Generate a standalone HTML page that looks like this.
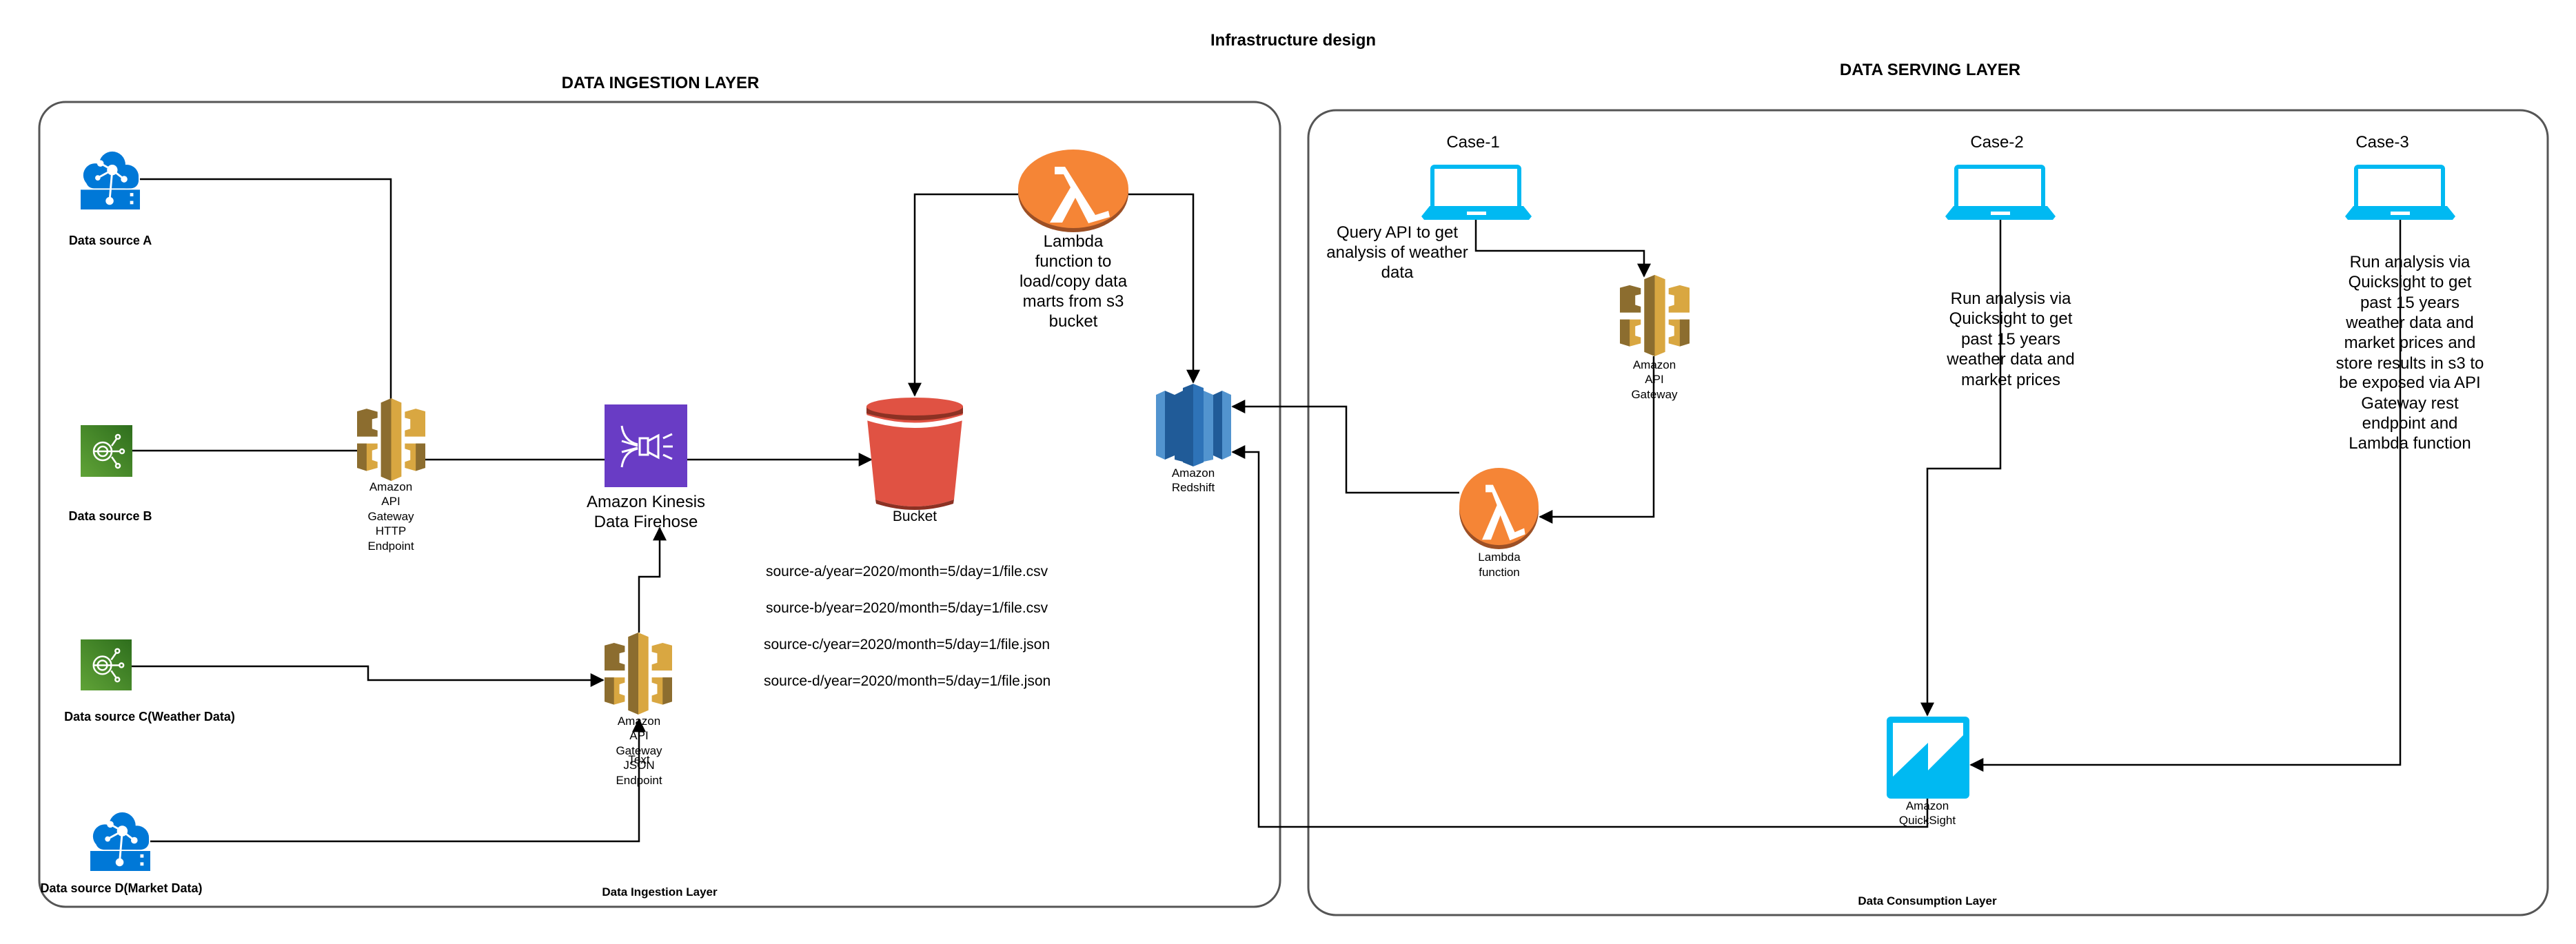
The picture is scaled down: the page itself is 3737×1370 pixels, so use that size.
<!DOCTYPE html>
<html><head><meta charset="utf-8"><style>
html,body{margin:0;padding:0;background:#fff}
svg{display:block}
text{font-family:"Liberation Sans",Arial,sans-serif;fill:#000}
.b{font-weight:bold}
.ln{fill:none;stroke:#000;stroke-width:2.5}
</style></head><body>
<svg width="3737" height="1370" viewBox="0 0 3737 1370" xmlns="http://www.w3.org/2000/svg">
<defs>
<marker id="a" viewBox="0 0 12 12" refX="11" refY="6" markerWidth="20" markerHeight="20" markerUnits="userSpaceOnUse" orient="auto"><path d="M0,0 L12,6 L0,12 Z" fill="#000"/></marker>
<symbol id="gw" viewBox="0 0 100 190" preserveAspectRatio="none">
<polygon points="0,30 14,24 30,31 30,45 22,48 22,70 30,74 30,88 0,88" fill="#8C6D2F"/>
<polygon points="100,30 86,24 70,31 70,45 78,48 78,70 70,74 70,88 100,88" fill="#D9A741"/>
<polygon points="0,104 30,104 30,116 22,120 22,142 30,146 30,160 14,167 0,160" fill="#D9A741"/>
<polygon points="0,104 14,104 14,167 0,160" fill="#8C6D2F"/>
<polygon points="100,104 70,104 70,116 78,120 78,142 70,146 70,160 86,167 100,160" fill="#D9A741"/>
<polygon points="86,104 100,104 100,160 86,167" fill="#8C6D2F"/>
<polygon points="35,10 50,0 65,10 65,180 50,190 35,180" fill="#D9A741"/>
<polygon points="35,10 50,0 50,190 35,180" fill="#8C6D2F"/>
</symbol>
<symbol id="lam" viewBox="0 0 160 120" preserveAspectRatio="none">
<ellipse cx="80" cy="63" rx="80" ry="57" fill="#9D5025"/>
<ellipse cx="80" cy="57" rx="80" ry="57" fill="#F58536"/>
<polygon points="53,25 68,25 112,95 131,89 133,98 102,107 83,70 64,106 46,106 76,55 66,36 53,36" fill="#fff"/>
</symbol>
<symbol id="lap" viewBox="0 0 160 80">
<rect x="16" y="3" width="126" height="60" rx="3" fill="none" stroke="#00B9F2" stroke-width="6"/>
<polygon points="12,60 148,60 160,75 156,80 4,80 0,75" fill="#00B9F2"/>
<rect x="66" y="68" width="28" height="5" fill="#fff"/>
</symbol>
<symbol id="az" viewBox="0 0 90 90">
<circle cx="48" cy="22" r="20" fill="#0078D7"/><circle cx="22" cy="38" r="18" fill="#0078D7"/><circle cx="70" cy="40" r="18" fill="#0078D7"/>
<rect x="8" y="30" width="80" height="28" rx="12" fill="#0078D7"/>
<rect x="0" y="60" width="90" height="30" fill="#0078D7"/>
<g stroke="#fff" stroke-width="3"><line x1="48" y1="30" x2="30" y2="20"/><line x1="48" y1="30" x2="26" y2="42"/><line x1="48" y1="30" x2="66" y2="44"/><line x1="48" y1="30" x2="44" y2="76"/></g>
<g fill="#fff"><circle cx="48" cy="30" r="8"/><circle cx="30" cy="20" r="5"/><circle cx="26" cy="42" r="4"/><circle cx="66" cy="44" r="5"/><circle cx="44" cy="77" r="6"/><rect x="75" y="65" width="5" height="5"/><rect x="75" y="77" width="5" height="5"/></g>
</symbol>
<symbol id="iot" viewBox="0 0 75 75">
<defs><linearGradient id="gg" x1="0" y1="1" x2="1" y2="0"><stop offset="0" stop-color="#60A337"/><stop offset="1" stop-color="#2E6E1D"/></linearGradient></defs>
<rect width="75" height="75" fill="url(#gg)"/>
<g fill="none" stroke="#fff" stroke-width="2.5"><circle cx="32" cy="38" r="13"/><circle cx="32" cy="38" r="7"/><line x1="20" y1="38" x2="58" y2="38"/><path d="M45,30 L52,20"/><path d="M45,46 L52,56"/><circle cx="54" cy="17" r="3"/><circle cx="60" cy="38" r="3"/><circle cx="54" cy="59" r="3"/></g>
</symbol>
</defs>

<text x="1876" y="66" class="b" font-size="24" text-anchor="middle">Infrastructure design</text>
<text x="958" y="128" class="b" font-size="24" text-anchor="middle">DATA INGESTION LAYER</text>
<text x="2800" y="109" class="b" font-size="24" text-anchor="middle">DATA SERVING LAYER</text>

<rect x="57" y="148" width="1800" height="1168" rx="38" fill="none" stroke="#555" stroke-width="3"/>
<rect x="1898" y="160" width="1798" height="1168" rx="40" fill="none" stroke="#555" stroke-width="3"/>

<polyline class="ln" points="203,260 567,260 567,580"/>
<polyline class="ln" points="192,654 518,654"/>
<polyline class="ln" points="617,667 877,667"/>
<polyline class="ln" points="997,667 1264,667" marker-end="url(#a)"/>
<polyline class="ln" points="1477,282 1327,282 1327,574" marker-end="url(#a)"/>
<polyline class="ln" points="1637,282 1731,282 1731,555" marker-end="url(#a)"/>
<polyline class="ln" points="927,918 927,837 957,837 957,766" marker-end="url(#a)"/>
<polyline class="ln" points="191,967 534,967 534,987 875,987" marker-end="url(#a)"/>
<polyline class="ln" points="218,1221 927,1221 927,1044" marker-end="url(#a)"/>
<polyline class="ln" points="2141,319 2141,364 2385,364 2385,401" marker-end="url(#a)"/>
<polyline class="ln" points="2399,517 2399,750 2234,750" marker-end="url(#a)"/>
<polyline class="ln" points="2117,715 1953,715 1953,590 1788,590" marker-end="url(#a)"/>
<polyline class="ln" points="2902,319 2902,680 2796,680 2796,1038" marker-end="url(#a)"/>
<polyline class="ln" points="3482,319 3482,1110 2859,1110" marker-end="url(#a)"/>
<polyline class="ln" points="2796,1159 2796,1200 1826,1200 1826,656 1788,656" marker-end="url(#a)"/>

<use href="#az" x="117" y="217" width="86" height="88"/>
<text x="160" y="355" class="b" font-size="18" text-anchor="middle">Data source A</text>
<use href="#iot" x="117" y="617" width="75" height="75"/>
<text x="160" y="755" class="b" font-size="18" text-anchor="middle">Data source B</text>
<use href="#iot" x="117" y="928" width="74" height="74"/>
<text x="217" y="1046" class="b" font-size="18" text-anchor="middle">Data source C(Weather Data)</text>
<use href="#az" x="131" y="1177" width="87" height="87"/>
<text x="176" y="1295" class="b" font-size="18" text-anchor="middle">Data source D(Market Data)</text>

<use href="#gw" x="518" y="578" width="99" height="120"/>
<g font-size="17" text-anchor="middle">
<text x="567" y="712">Amazon</text><text x="567" y="733">API</text><text x="567" y="755">Gateway</text><text x="567" y="776">HTTP</text><text x="567" y="798">Endpoint</text>
</g>

<rect x="877" y="587" width="120" height="120" fill="#693CC5"/>
<g fill="none" stroke="#fff" stroke-width="3">
<path d="M902,618 Q905,640 925,645"/><path d="M902,678 Q905,656 925,651"/>
<path d="M902,640 L925,647"/><path d="M902,656 L925,650"/>
<rect x="928" y="636" width="12" height="24"/><path d="M940,640 L955,632 L955,664 L940,656"/>
<path d="M962,636 L975,630"/><path d="M962,648 L976,648"/><path d="M962,660 L975,666"/>
</g>
<text x="937" y="736" font-size="24" text-anchor="middle">Amazon Kinesis</text>
<text x="937" y="765" font-size="24" text-anchor="middle">Data Firehose</text>

<use href="#lam" x="1477" y="217" width="160" height="120"/>
<g font-size="24" text-anchor="middle">
<text x="1557" y="358">Lambda</text><text x="1557" y="387">function to</text><text x="1557" y="416">load/copy data</text><text x="1557" y="445">marts from s3</text><text x="1557" y="474">bucket</text>
</g>

<path d="M1257,598 L1270,725 Q1327,745 1384,725 L1397,598 Z" fill="#E05243"/>
<path d="M1270,725 Q1327,745 1384,725 L1383,731 Q1327,749 1271,731 Z" fill="#8C3123"/>
<path d="M1257,602 Q1327,625 1397,602 L1397,610 Q1327,632 1257,610 Z" fill="#fff"/>
<path d="M1257,590 L1257,600 Q1327,620 1397,600 L1397,590 Z" fill="#8C3123"/>
<ellipse cx="1327" cy="590" rx="70" ry="13" fill="#E05243"/>
<text x="1327" y="756" font-size="21" text-anchor="middle">Bucket</text>

<polygon points="1677,573 1690,567 1690,667 1677,661" fill="#5294CF"/>
<polygon points="1690,567 1704,573 1704,661 1690,667" fill="#205B98"/>
<polygon points="1704,573 1716,567 1716,670 1704,667" fill="#205B98"/>
<polygon points="1716,563 1731,557 1731,677 1716,671" fill="#205B98"/>
<polygon points="1731,557 1746,563 1746,671 1731,677" fill="#2E73B8"/>
<polygon points="1746,567 1760,573 1760,667 1746,670" fill="#5294CF"/>
<polygon points="1760,573 1773,567 1773,667 1760,661" fill="#205B98"/>
<polygon points="1773,567 1786,573 1786,661 1773,667" fill="#5294CF"/>
<text x="1731" y="692" font-size="17" text-anchor="middle">Amazon</text>
<text x="1731" y="713" font-size="17" text-anchor="middle">Redshift</text>

<g font-size="21">
<text x="1111" y="836">source-a/year=2020/month=5/day=1/file.csv</text>
<text x="1111" y="889">source-b/year=2020/month=5/day=1/file.csv</text>
<text x="1108" y="942">source-c/year=2020/month=5/day=1/file.json</text>
<text x="1108" y="995">source-d/year=2020/month=5/day=1/file.json</text>
</g>

<use href="#gw" x="877" y="918" width="98" height="119"/>
<g font-size="17" text-anchor="middle">
<text x="927" y="1052">Amazon</text><text x="927" y="1073">API</text><text x="927" y="1095">Gateway</text><text x="927" y="1108">Text</text><text x="927" y="1116">JSON</text><text x="927" y="1138">Endpoint</text>
</g>
<text x="957" y="1300" class="b" font-size="17" text-anchor="middle">Data Ingestion Layer</text>

<g font-size="24" text-anchor="middle">
<text x="2137" y="214">Case-1</text><text x="2897" y="214">Case-2</text><text x="3456" y="214">Case-3</text>
</g>
<use href="#lap" x="2062" y="239" width="160" height="80"/>
<use href="#lap" x="2822" y="239" width="160" height="80"/>
<use href="#lap" x="3402" y="239" width="160" height="80"/>
<g font-size="24" text-anchor="middle">
<text x="2027" y="345">Query  API to get</text><text x="2027" y="374">analysis of weather</text><text x="2027" y="403">data</text>
<text x="2917" y="441">Run analysis via</text><text x="2917" y="470">Quicksight to get</text><text x="2917" y="500">past 15 years</text><text x="2917" y="529">weather data  and</text><text x="2917" y="559">market prices</text>
<text x="3496" y="388">Run analysis via</text><text x="3496" y="417">Quicksight to get</text><text x="3496" y="447">past 15 years</text><text x="3496" y="476">weather data  and</text><text x="3496" y="505">market prices  and</text><text x="3496" y="535">store results in  s3 to</text><text x="3496" y="563">be exposed via API</text><text x="3496" y="593">Gateway rest</text><text x="3496" y="622">endpoint and</text><text x="3496" y="651">Lambda function</text>
</g>

<use href="#gw" x="2350" y="399" width="101" height="118"/>
<g font-size="17" text-anchor="middle">
<text x="2400" y="535">Amazon</text><text x="2400" y="556">API</text><text x="2400" y="578">Gateway</text>
</g>

<use href="#lam" x="2117" y="679" width="115" height="118"/>
<text x="2175" y="814" font-size="17" text-anchor="middle">Lambda</text>
<text x="2175" y="836" font-size="17" text-anchor="middle">function</text>

<rect x="2737" y="1040" width="120" height="119" rx="6" fill="#00B9F2"/>
<polygon points="2746,1049 2848,1049 2848,1067 2797,1118 2797,1078 2746,1127" fill="#fff"/>
<text x="2796" y="1175" font-size="17" text-anchor="middle">Amazon</text>
<text x="2796" y="1196" font-size="17" text-anchor="middle">QuickSight</text>

<text x="2796" y="1313" class="b" font-size="17" text-anchor="middle">Data Consumption Layer</text>
</svg>
</body></html>
